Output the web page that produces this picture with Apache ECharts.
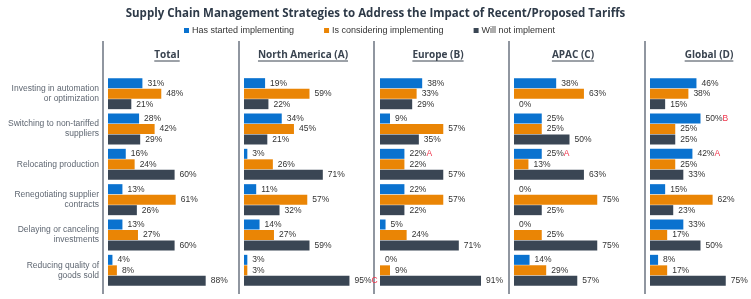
<!DOCTYPE html>
<html>
<head>
<meta charset="utf-8">
<script src="https://cdn.jsdelivr.net/npm/echarts@6/dist/echarts.min.js"></script>
<style>
  html, body { margin: 0; padding: 0; background: #fff; }
  #chart { width: 751px; height: 299px; }
</style>
</head>
<body>
<div id="chart"></div>
<script>
// Categories and panel names
const categories = [
  'Investing in automation\nor optimization',
  'Switching to non-tariffed\nsuppliers',
  'Relocating production',
  'Renegotiating supplier\ncontracts',
  'Delaying or canceling\ninvestments',
  'Reducing quality of\ngoods sold'
];
const regions = ['Total', 'North America (A)', 'Europe (B)', 'APAC (C)', 'Global (D)'];
const seriesNames = ['Has started implementing', 'Is considering implementing', 'Will not implement'];

// Values per region (one row per region, one value per category)
const started = [
  [31, 28, 16, 13, 13, 4],
  [19, 34, 3, 11, 14, 3],
  [38, 9, 22, 22, 5, 0],
  [38, 25, 25, 0, 0, 14],
  [46, 50, 42, 15, 33, 8]
];
const considering = [
  [48, 42, 24, 61, 27, 8],
  [59, 45, 26, 57, 27, 3],
  [33, 57, 22, 57, 24, 9],
  [63, 25, 13, 75, 25, 29],
  [38, 25, 25, 62, 17, 17]
];
const notImplementing = [
  [21, 29, 60, 26, 60, 88],
  [22, 21, 71, 32, 59, 95],
  [29, 35, 57, 22, 71, 91],
  [0, 50, 63, 25, 75, 57],
  [15, 25, 33, 23, 50, 75]
];

// Significance letters shown in red next to a label
const startedSig = [
  ['', '', '', '', '', ''],
  ['', '', '', '', '', ''],
  ['', '', 'A', '', '', ''],
  ['', '', 'A', '', '', ''],
  ['', 'B', 'A', '', '', '']
];
const consideringSig = [
  ['', '', '', '', '', ''],
  ['', '', '', '', '', ''],
  ['', '', '', '', '', ''],
  ['', '', '', '', '', ''],
  ['', '', '', '', '', '']
];
const notImplementingSig = [
  ['', '', '', '', '', ''],
  ['', '', '', '', '', 'C'],
  ['', '', '', '', '', ''],
  ['', '', '', '', '', ''],
  ['', '', '', '', '', '']
];

const colors = ['#0a72cf', '#ea8505', '#3a4654'];

const chart = echarts.init(document.getElementById('chart'));

const separatorX = [103, 239, 374, 509, 645];
const gridLeft = [108, 244, 380, 514, 650];

const grids = [];
const xAxes = [];
const yAxes = [];
const series = [];
const graphics = [];

const measure = document.createElement('canvas').getContext('2d');
const headerFont = 'bold 10px "Open Sans"';
measure.font = headerFont;

regions.forEach((name, i) => {
  grids.push({ left: gridLeft[i], top: 76, width: 111, height: 212 });
  xAxes.push({
    type: 'value', gridIndex: i, min: 0, max: 100,
    show: false
  });
  yAxes.push({
    type: 'category', gridIndex: i, data: categories, inverse: true,
    axisLine: { show: false }, axisTick: { show: false },
    axisLabel: {
      show: i === 0, margin: 9, fontSize: 8.5, lineHeight: 10,
      color: '#5f6772', fontFamily: 'Liberation Sans', align: 'right'
    }
  });

  const groups = [
    [started[i], startedSig[i]],
    [considering[i], consideringSig[i]],
    [notImplementing[i], notImplementingSig[i]]
  ];
  groups.forEach(([vals, sig], k) => {
    series.push({
      name: seriesNames[k],
      type: 'bar',
      xAxisIndex: i,
      yAxisIndex: i,
      barWidth: 10,
      barGap: '5%',
      barCategoryGap: '12%',
      itemStyle: { color: colors[k] },
      label: {
        show: true, position: 'right', distance: 5,
        formatter: p => p.value + '%' + (sig[p.dataIndex] ? '{s|' + sig[p.dataIndex] + '}' : ''),
        fontSize: 8.5, color: '#333', fontFamily: 'Liberation Sans',
        rich: { s: { color: '#f0324a', fontSize: 8.5, fontFamily: 'Liberation Sans' } }
      },
      data: vals
    });
  });

  // separator line
  graphics.push({
    type: 'line',
    shape: { x1: separatorX[i], y1: 41, x2: separatorX[i], y2: 294 },
    style: { stroke: '#6b7380', lineWidth: 1.5 }
  });
  // panel header with underline
  const cx = separatorX[i] + 64;
  const w = measure.measureText(name).width;
  graphics.push({
    type: 'text',
    x: cx, y: 55,
    style: {
      text: name, font: headerFont, fill: '#3a4450',
      textAlign: 'center', textVerticalAlign: 'middle'
    }
  });
  graphics.push({
    type: 'line',
    shape: { x1: cx - w / 2, y1: 61, x2: cx + w / 2, y2: 61 },
    style: { stroke: '#3a4450', lineWidth: 1 }
  });
});

const option = {
  animation: false,
  color: colors,
  title: {
    text: 'Supply Chain Management Strategies to Address the Impact of Recent/Proposed Tariffs',
    left: 'center',
    top: 3,
    textStyle: { fontFamily: 'Open Sans', fontWeight: 'bold', fontSize: 11.5, color: '#2e3a48' }
  },
  legend: {
    data: seriesNames,
    left: 179, top: 21,
    itemWidth: 5, itemHeight: 5, itemGap: 30,
    icon: 'rect',
    textStyle: { fontSize: 9, color: '#333', fontFamily: 'Liberation Sans', padding: [0, 0, 0, -2] }
  },
  grid: grids,
  xAxis: xAxes,
  yAxis: yAxes,
  series: series,
  graphic: graphics
};

chart.setOption(option);
</script>
</body>
</html>
